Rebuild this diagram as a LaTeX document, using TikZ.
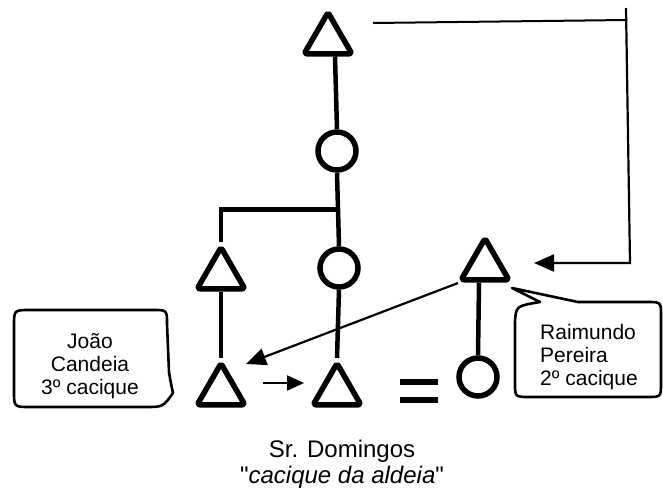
\documentclass[tikz,border=0pt]{standalone}
\usepackage{fontspec}
\setmainfont{Liberation Sans}[Ligatures=TeXOff]
\usetikzlibrary{shapes.geometric,arrows.meta,calc}
\begin{document}
\begin{tikzpicture}[x=1pt,y=-1pt,
  tri/.style={regular polygon,regular polygon sides=3,draw,line width=5.5pt,minimum size=55pt,inner sep=0pt,rounded corners=2.5pt,line join=round},
  circ/.style={circle,draw,line width=5.5pt,minimum size=38pt,inner sep=0pt},
  kin/.style={line width=4.5pt},
  arr/.style={line width=2.2pt,-{Triangle[length=20pt,width=17pt]}},
  sarr/.style={line width=2.2pt,-{Triangle[length=17pt,width=15pt]}},
  thinl/.style={line width=2pt},
  bubble/.style={line width=2.6pt,line join=round},
  lbl/.style={font=\fontsize{21}{23}\selectfont,inner sep=0pt},
  blbl/.style={font=\fontsize{24}{26}\selectfont,inner sep=0pt},
]
\useasboundingbox (0,0) rectangle (663,490);

% kinship symbols
\node[tri] (t1) at (328,40) {};
\node[circ] (c1) at (337,151) {};
\node[circ] (c2) at (339,268) {};
\node[tri] (t2) at (221,275) {};
\node[tri] (t3) at (221,391) {};
\node[tri] (t4) at (337,391) {};
\node[tri] (t5) at (485,266) {};
\node[circ] (c3) at (478,377) {};

% kinship lines
\draw[kin] ($(t1.south)+(7,0)$) -- (c1.north);
\draw[kin] (c1.south) -- (c2.north);
\coordinate (br) at ($(c1.south)!0.5!(c2.north)$);
\draw[kin] (br) -| (t2.north);
\draw[kin] (t2.south) -- (t3.north);
\draw[kin] (c2.south) -- (t4.north);
\draw[kin] ($(t5.south)+(-6,0)$) -- (c3.north);

% equals sign (marriage)
\fill (400,379) rectangle (438,385);
\fill (400,397) rectangle (438,403);

% small arrow
\coordinate (sa1) at (263,383);
\coordinate (sa2) at (304,383);
\draw[sarr] (sa1) -- (sa2);

% long diagonal arrow
\coordinate (la1) at (458,283);
\coordinate (la2) at (246,364);
\draw[arr] (la1) -- (la2);

% top-right connector
\coordinate (r0) at (373,23);
\coordinate (r1) at (627,20);
\coordinate (rt) at (626,8);
\coordinate (r2) at (630,263);
\coordinate (r3) at (534,263);
\draw[thinl] (r0) -- (r1);
\draw[arr] (rt) -- (r2) -- (r3);

% left callout
\draw[bubble] (14,326) .. controls (14,310) .. (30,310) -- (153,310)
  .. controls (167,310) .. (167,324) -- (169,372) .. controls (171,384) .. (173,393)
  .. controls (163,407) .. (145,407) -- (30,407) .. controls (14,407) .. (14,391) -- cycle;
\node[lbl,align=center] (jc) at (90,366) {João\\Candeia\\3º cacique};

% right callout
\draw[bubble] (512,288) -- (578,302) -- (647,302) .. controls (661,302) .. (661,316)
  -- (661,383) .. controls (661,397) .. (647,397) -- (530,397)
  .. controls (515,397) .. (515,383) -- (515,322) .. controls (516,306) .. (540,302) -- cycle;
\node[lbl,align=left,anchor=west] (rp) at (540,357) {Raimundo\\Pereira\\2º cacique};

% bottom caption
\node[blbl,align=center] (sd) at (342,464) {Sr. Domingos\\"\textit{cacique da aldeia}"};
\end{tikzpicture}
\end{document}
